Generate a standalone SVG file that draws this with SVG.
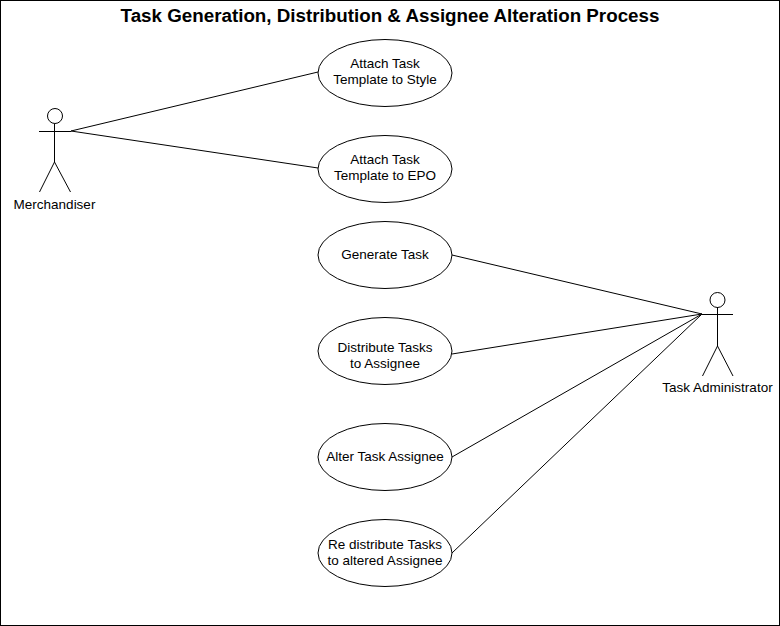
<svg xmlns="http://www.w3.org/2000/svg" width="780" height="626" viewBox="0 0 780 626">
<style>
text{font-family:"Liberation Sans",Arial,sans-serif;font-size:13.5px;fill:#000;text-anchor:middle}
.t{font-size:18.8px;font-weight:bold}
.s{fill:none;stroke:#000;stroke-width:1}
.u{fill:#fff;stroke:#000;stroke-width:1}
</style>
<rect x="0.5" y="0.5" width="779" height="625" fill="#fff" stroke="#000"/>
<text class="t" x="390" y="22">Task Generation, Distribution &amp; Assignee Alteration Process</text>
<g id="connectors" class="s">
<line x1="71" y1="131" x2="318" y2="72"/>
<line x1="71" y1="131" x2="318" y2="168"/>
<line x1="702" y1="314" x2="452" y2="255"/>
<line x1="702" y1="314" x2="452" y2="354"/>
<line x1="702" y1="314" x2="452" y2="457"/>
<line x1="702" y1="314" x2="452" y2="553"/>
</g>
<g id="merchandiser">
<circle class="u" cx="55" cy="116" r="7.5"/>
<path class="s" d="M39 131.500H71M54.500 124V162M54.500 162L39.500 192M54.500 162L70.500 192"/>
<text x="54.500" y="209">Merchandiser</text>
</g>
<g id="task-administrator">
<circle class="u" cx="717.500" cy="300" r="7.500"/>
<path class="s" d="M702 314.500H733M717.500 307V346M717.500 346L702.500 376M717.500 346L733 376"/>
<text x="717.500" y="392">Task Administrator</text>
</g>
<g id="uc1"><ellipse class="u" cx="385" cy="73" rx="67" ry="33.500"/><text x="385" y="68">Attach Task</text><text x="385" y="84">Template to Style</text></g>
<g id="uc2"><ellipse class="u" cx="385" cy="169" rx="67" ry="33.500"/><text x="385" y="164">Attach Task</text><text x="385" y="180">Template to EPO</text></g>
<g id="uc3"><ellipse class="u" cx="385" cy="255" rx="67" ry="33.500"/><text x="385" y="258.500">Generate Task</text></g>
<g id="uc4"><ellipse class="u" cx="385" cy="351" rx="67" ry="33.500"/><text x="385" y="352">Distribute Tasks</text><text x="385" y="368">to Assignee</text></g>
<g id="uc5"><ellipse class="u" cx="385" cy="457" rx="67" ry="33.500"/><text x="385" y="461">Alter Task Assignee</text></g>
<g id="uc6"><ellipse class="u" cx="385" cy="553" rx="67" ry="33.500"/><text x="385" y="549">Re distribute Tasks</text><text x="385" y="565">to altered Assignee</text></g>
</svg>
